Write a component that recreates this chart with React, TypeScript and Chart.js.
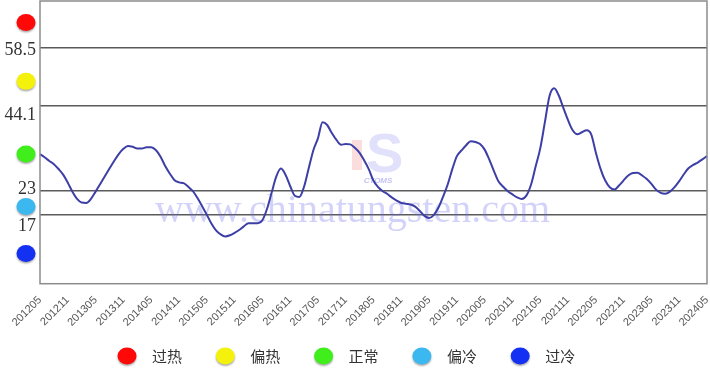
import { useEffect, useRef } from "react";
import { Chart, registerables } from "chart.js";
Chart.register(...registerables);

// monthly categories 2012-05 .. 2024-05
const START_YEAR = 2012;
const START_MONTH = 5;
const MONTH_COUNT = 145;
const months: string[] = [];
for (let i = 0; i < MONTH_COUNT; i++) {
  const t = START_MONTH - 1 + i;
  const y = START_YEAR + Math.floor(t / 12);
  const m = (t % 12) + 1;
  months.push(`${y}${m < 10 ? "0" + m : m}`);
}

const indexValues: number[] = [
  32.1, 31.3, 30.4, 29.6, 28.4, 27.0, 25.0, 22.8, 21.0, 20.1,
  20.0, 21.0, 22.8, 24.7, 26.6, 28.5, 30.4, 32.1, 33.4, 34.1,
  33.9, 33.5, 33.5, 33.8, 33.8, 33.1, 31.5, 29.2, 27.3, 25.7,
  25.1, 24.9, 24.0, 22.9, 21.2, 19.2, 17.1, 14.9, 13.2, 12.2,
  11.7, 12.0, 12.6, 13.3, 14.2, 15.0, 15.0, 15.0, 15.7, 18.5,
  22.5, 26.5, 28.5, 27.0, 24.2, 21.8, 21.5, 24.0, 28.5, 33.0,
  36.0, 40.0, 39.3, 37.3, 35.6, 34.4, 34.6, 34.5, 33.6, 32.4,
  30.5, 28.3, 25.5, 23.9, 22.9, 22.2, 21.3, 20.6, 20.0, 19.8,
  19.6, 19.1, 18.0, 16.8, 16.3, 17.0, 18.8, 21.5, 24.5, 28.3,
  31.6, 33.0, 34.3, 35.3, 35.1, 34.6, 33.2, 30.7, 27.9, 25.3,
  24.0, 22.9, 22.1, 21.4, 21.0, 21.8, 24.5, 29.0, 33.5, 40.0,
  46.5, 48.4, 46.6, 43.5, 40.5, 38.0, 37.0, 37.5, 38.0, 37.0,
  32.5, 28.5, 25.6, 23.9, 23.3, 24.3, 25.6, 26.8, 27.4, 27.5,
  26.8, 25.9, 24.7, 23.3, 22.5, 22.3, 22.8, 23.9, 25.4, 27.1,
  28.6, 29.4, 30.0, 30.8, 31.6,
];

const thresholds: number[] = [17, 23, 44.1, 58.5];
const thresholdLabels: string[] = ["17", "23", "44.1", "58.5"];
const thresholdLabelShift: number[] = [11, -2, 10, 3];

const zoneNames: string[] = ["过热", "偏热", "正常", "偏冷", "过冷"];
const zoneColors: string[] = ["#ff0808", "#f4f20c", "#40ee1c", "#3cb8f0", "#1430f2"];
const zoneMid: number[] = [64.7, 50.1, 32.1, 19.1, 7.5];

const Y_MIN = 0;
const Y_MAX = 70;

function dot(ctx: CanvasRenderingContext2D, x: number, y: number, color: string) {
  ctx.save();
  ctx.shadowColor = "rgba(0,0,0,0.35)";
  ctx.shadowBlur = 2;
  ctx.shadowOffsetY = 1.5;
  ctx.fillStyle = color;
  ctx.beginPath();
  ctx.ellipse(x, y, 9.5, 8.5, 0, 0, Math.PI * 2);
  ctx.fill();
  ctx.restore();
}

const decorPlugin = {
  id: "decor",
  beforeDatasetsDraw(chart: any) {
    const ctx: CanvasRenderingContext2D = chart.ctx;
    ctx.save();
    ctx.fillStyle = "rgba(110,110,240,0.3)";
    ctx.font = "40px 'Liberation Serif'";
    ctx.textBaseline = "alphabetic";
    ctx.textAlign = "left";
    ctx.fillText("www.chinatungsten.com", 155, 222);
    ctx.fillStyle = "rgba(120,120,235,0.22)";
    ctx.font = "bold 56px 'Liberation Sans'";
    ctx.fillText("S", 366, 172);
    ctx.fillStyle = "rgba(240,120,120,0.25)";
    ctx.fillRect(352, 140, 10, 30);
    ctx.fillStyle = "rgba(100,100,230,0.4)";
    ctx.font = "italic bold 8px 'Liberation Sans'";
    ctx.textAlign = "center";
    ctx.fillText("CTOMS", 378, 183);
    ctx.restore();
  },
  afterDraw(chart: any) {
    const ctx: CanvasRenderingContext2D = chart.ctx;
    const area = chart.chartArea;
    const ys = chart.scales.y;
    ctx.save();
    // frame
    ctx.strokeStyle = "#8c8c8c";
    ctx.lineWidth = 1.5;
    ctx.strokeRect(area.left, area.top, area.right - area.left, area.bottom - area.top);
    // threshold labels
    ctx.fillStyle = "#333";
    ctx.font = "18px 'Liberation Serif'";
    ctx.textAlign = "right";
    ctx.textBaseline = "middle";
    thresholds.forEach((v, i) => {
      ctx.fillText(thresholdLabels[i], area.left - 4, ys.getPixelForValue(v) + thresholdLabelShift[i]);
    });
    // zone dots
    zoneMid.forEach((v, i) => {
      dot(ctx, area.left - 14, ys.getPixelForValue(v), zoneColors[i]);
    });
    // legend
    ctx.font = "15px 'Noto Sans CJK SC'";
    ctx.textAlign = "left";
    const legendY = 356;
    zoneNames.forEach((name, i) => {
      const x = 127 + i * 98.3;
      dot(ctx, x, legendY, zoneColors[i]);
      ctx.fillStyle = "#333";
      ctx.fillText(name, x + 25, legendY);
    });
    ctx.restore();
  },
};

export default function App() {
  const ref = useRef<HTMLCanvasElement | null>(null);
  useEffect(() => {
    document.body.style.margin = "0";
    if (!ref.current) return;
    const chart = new Chart(ref.current, {
      type: "line",
      data: {
        labels: months,
        datasets: [
          {
            data: indexValues,
            borderColor: "#3d3fa6",
            borderWidth: 2,
            pointRadius: 0,
            fill: false,
            cubicInterpolationMode: "monotone",
          },
        ],
      },
      options: {
        animation: false,
        responsive: false,
        events: [],
        layout: { padding: { left: 40, right: 3, top: 1, bottom: 30 } },
        plugins: { legend: { display: false }, tooltip: { enabled: false } },
        scales: {
          x: {
            type: "category",
            offset: false,
            grid: { display: false, drawTicks: false },
            border: { display: false },
            afterFit: (scale: any) => {
              scale.paddingRight = 0;
              scale.paddingLeft = 0;
            },
            ticks: {
              autoSkip: false,
              minRotation: 45,
              maxRotation: 45,
              padding: 10,
              color: "#555",
              font: { family: "'Liberation Sans'", size: 11 },
              callback: (_v: any, idx: number) => (idx % 6 === 0 ? months[idx] : null),
            },
          },
          y: {
            min: Y_MIN,
            max: Y_MAX,
            border: { display: false },
            grid: { color: "#5a5a5a", lineWidth: 1.5, drawTicks: false },
            ticks: { display: false },
            afterBuildTicks: (scale: any) => {
              scale.ticks = thresholds.map((v) => ({ value: v }));
            },
          },
        },
      },
      plugins: [decorPlugin],
    });
    return () => chart.destroy();
  }, []);
  return (
    <div style={{ position: "absolute", left: 0, top: 0, width: 710, height: 369 }}>
      <canvas ref={ref} width={710} height={369} />
    </div>
  );
}
